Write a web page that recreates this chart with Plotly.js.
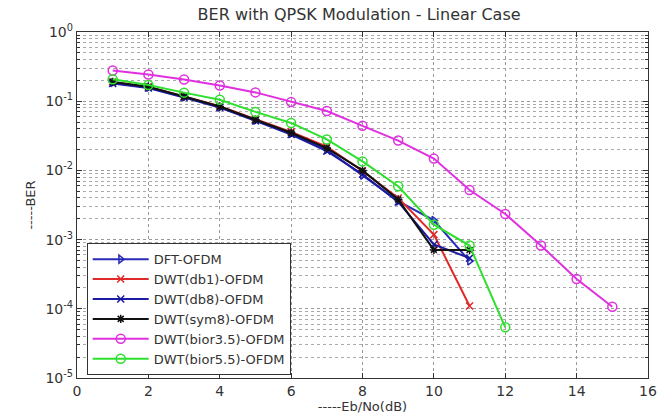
<!DOCTYPE html>
<html><head><meta charset="utf-8">
<script src="https://cdn.plot.ly/plotly-3.0.1.min.js"></script>
<style>body{margin:0;background:#fff}#c{width:665px;height:415px}</style>
</head><body><div id="c"></div>
<script>
var names = ['DFT-OFDM','DWT(db1)-OFDM','DWT(db8)-OFDM','DWT(sym8)-OFDM','DWT(bior3.5)-OFDM','DWT(bior5.5)-OFDM'];
var xDFT = [1,2,3,4,5,6,7,8,9,10,11];
var yDFT = [0.185,0.158,0.115,0.082,0.053,0.034,0.020,0.0085,0.0036,0.0019,0.00049];
var xDb1 = [1,2,3,4,5,6,7,8,9,10,11];
var yDb1 = [0.19,0.16,0.117,0.085,0.055,0.036,0.022,0.0098,0.0040,0.00118,0.00011];
var xDb8 = [1,2,3,4,5,6,7,8,9,10,11];
var yDb8 = [0.18,0.155,0.113,0.081,0.052,0.033,0.019,0.0088,0.0035,0.00085,0.00054];
var xSym8 = [1,2,3,4,5,6,7,8,9,10,11];
var ySym8 = [0.19,0.162,0.117,0.084,0.054,0.035,0.021,0.0100,0.0038,0.00071,0.00071];
var xBior35 = [1,2,3,4,5,6,7,8,9,10,11,12,13,14,15];
var yBior35 = [0.277,0.243,0.206,0.169,0.134,0.097,0.072,0.044,0.027,0.0148,0.0052,0.00235,0.00082,0.00027,0.000107];
var xBior55 = [1,2,3,4,5,6,7,8,9,10,11,12];
var yBior55 = [0.207,0.171,0.133,0.105,0.070,0.0485,0.028,0.0135,0.0059,0.00164,0.00082,0.000054];
var yTickVals = [1e-5,1e-4,1e-3,1e-2,1e-1,1];
var yTickText = ['10<sup>-5</sup>','10<sup>-4</sup>','10<sup>-3</sup>','10<sup>-2</sup>','10<sup>-1</sup>','10<sup>0</sup>'];
var colors = ['#2a2ab8','#e02a2a','#1c1ca0','#111111','#e030e0','#2ee02e'];
var symbols = ['triangle-right-open','x-thin-open','x-thin-open','asterisk-open','circle-open','circle-open'];
var xs = [xDFT,xDb1,xDb8,xSym8,xBior35,xBior55];
var ys = [yDFT,yDb1,yDb8,ySym8,yBior35,yBior55];
var traces = [];
for (var i=0;i<6;i++){
  traces.push({x:xs[i], y:ys[i], name:names[i], type:'scatter', mode:'lines+markers',
    line:{color:colors[i], width:2},
    marker:{symbol:symbols[i], size:(i>=4?9:7), color:colors[i], line:{color:colors[i], width:1.5}}});
}
var F = 'DejaVu Sans, Arial, sans-serif';
var layout = {
  width:665, height:415,
  margin:{l:77,r:17,t:32,b:37},
  paper_bgcolor:'#fff', plot_bgcolor:'#fff',
  font:{family:F, size:13, color:'#333'},
  title:{text:'BER with QPSK Modulation - Linear Case', x:0.54, xanchor:'center', y:0.98, yanchor:'top', font:{family:F, size:16, color:'#333'}},
  xaxis:{range:[0,16], dtick:2, tick0:0, showline:true, linecolor:'#333', linewidth:1.2, mirror:'allticks',
    ticks:'inside', ticklen:5, tickcolor:'#333', showgrid:true, gridcolor:'#999', griddash:'dot', zeroline:false,
    tickfont:{size:14},
    title:{text:'-----Eb/No(dB)', standoff:3, font:{size:13}}},
  yaxis:{type:'log', range:[-5,0], tickmode:'array', tickvals:yTickVals, ticktext:yTickText,
    showline:true, linecolor:'#333', linewidth:1.2, mirror:'allticks',
    ticks:'inside', ticklen:5, tickcolor:'#333', showgrid:true, gridcolor:'#999', griddash:'dot', zeroline:false,
    tickfont:{size:14},
    minor:{showgrid:true, gridcolor:'#aaa', griddash:'dot', dtick:'D1', ticks:'inside', ticklen:3, tickcolor:'#333'},
    title:{text:'-----BER', standoff:6, font:{size:13}}},
  legend:{x:0.017, y:0.008, xanchor:'left', yanchor:'bottom', bgcolor:'#fff', bordercolor:'#333', borderwidth:1,
    font:{family:F, size:13, color:'#333'}, tracegroupgap:0, itemwidth:56},
  showlegend:true
};
Plotly.newPlot('c', traces, layout, {staticPlot:true});
</script></body></html>
